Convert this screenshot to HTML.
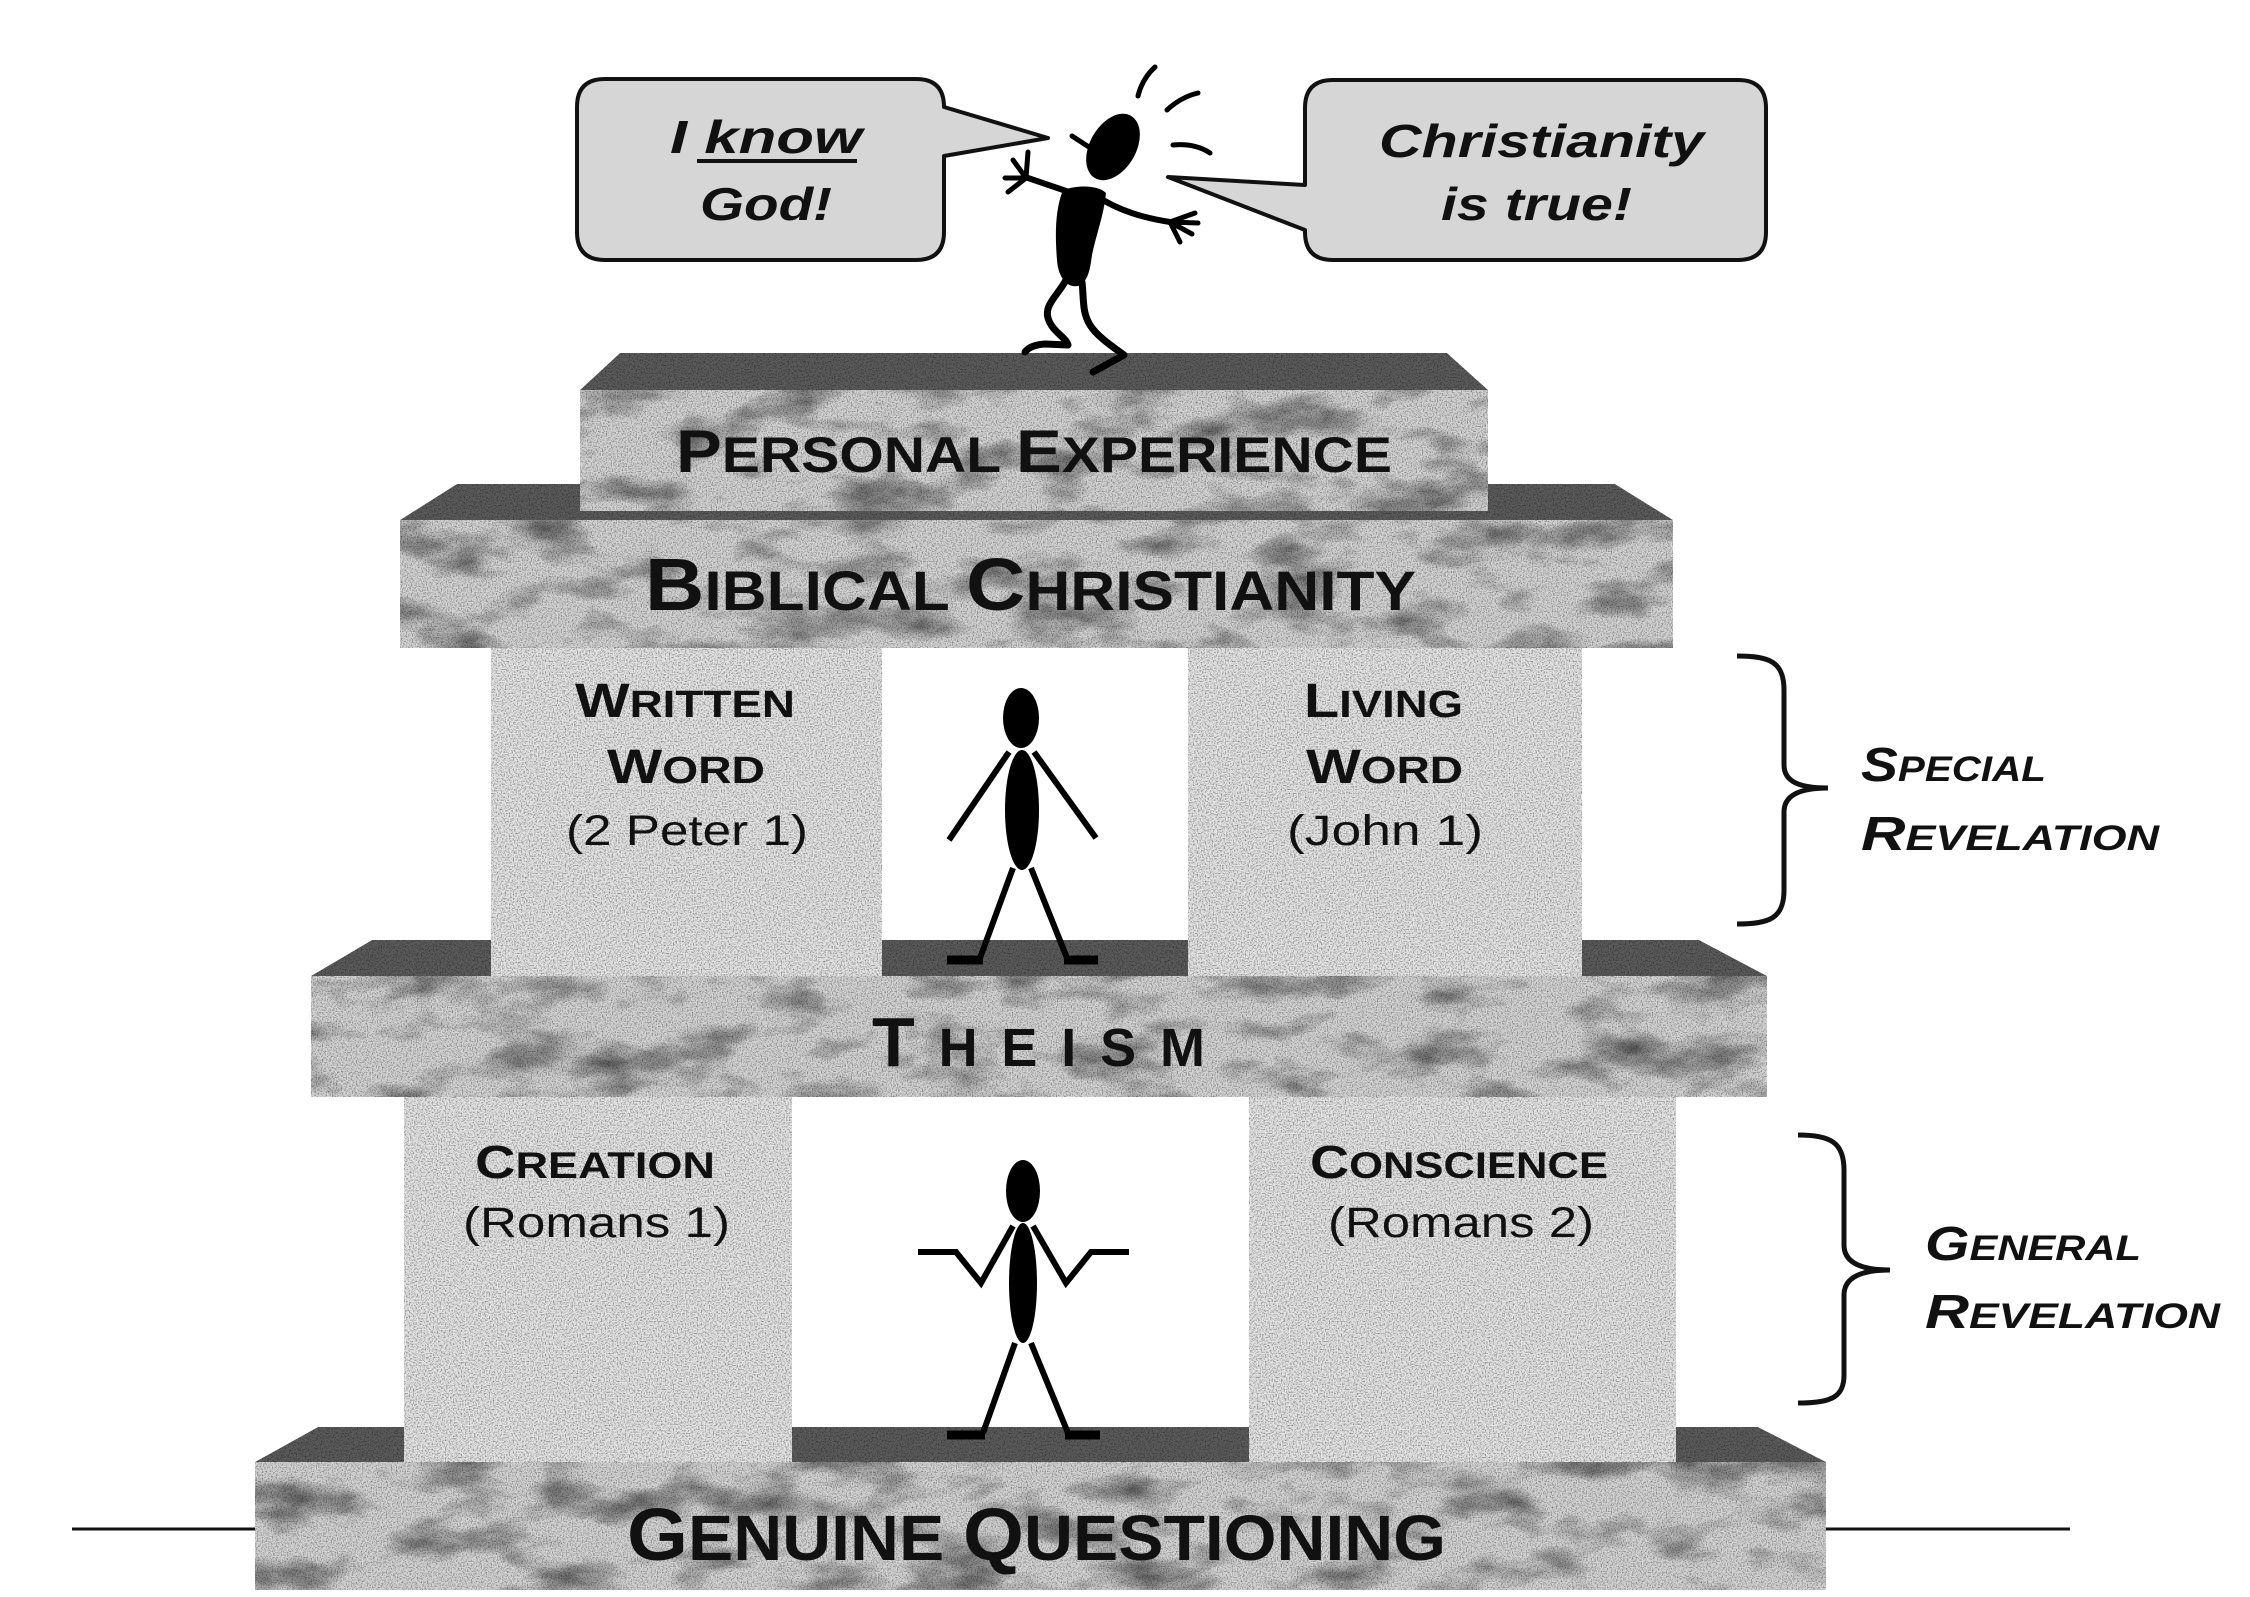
<!DOCTYPE html>
<html>
<head>
<meta charset="utf-8">
<style>
  html,body{margin:0;padding:0;background:#ffffff;}
  svg{display:block;}
  .b{font-family:"Liberation Sans",Arial,sans-serif;font-weight:bold;fill:#111;}
  .r{font-family:"Liberation Sans",Arial,sans-serif;font-weight:normal;fill:#111;}
  .bi{font-family:"Liberation Sans",Arial,sans-serif;font-weight:bold;font-style:italic;fill:#111;}
</style>
</head>
<body>
<svg xmlns="http://www.w3.org/2000/svg" width="2250" height="1597" viewBox="0 0 2250 1597">
  <defs>
    <filter id="marble" filterUnits="userSpaceOnUse" x="0" y="0" width="2250" height="1597" color-interpolation-filters="sRGB">
      <feTurbulence type="fractalNoise" baseFrequency="0.012 0.025" numOctaves="4" seed="11" result="lo"/>
      <feColorMatrix in="lo" type="matrix" values="1.3 0 0 0 0.3  1.3 0 0 0 0.3  1.3 0 0 0 0.3  0 0 0 0 1" result="log"/>
      <feTurbulence type="fractalNoise" baseFrequency="0.8" numOctaves="1" seed="3" result="hi"/>
      <feColorMatrix in="hi" type="matrix" values="1.3 0 0 0 0.27  1.3 0 0 0 0.27  1.3 0 0 0 0.27  0 0 0 0 1" result="hig"/>
      <feBlend in="log" in2="hig" mode="multiply" result="tex"/>
      <feBlend in="SourceGraphic" in2="tex" mode="multiply" result="bl"/>
      <feComposite in="bl" in2="SourceGraphic" operator="in"/>
    </filter>
    <filter id="grain" filterUnits="userSpaceOnUse" x="0" y="0" width="2250" height="1597" color-interpolation-filters="sRGB">
      <feTurbulence type="fractalNoise" baseFrequency="0.75" numOctaves="1" seed="5" result="hi"/>
      <feColorMatrix in="hi" type="matrix" values="1.3 0 0 0 0.27  1.3 0 0 0 0.27  1.3 0 0 0 0.27  0 0 0 0 1" result="hig"/>
      <feBlend in="SourceGraphic" in2="hig" mode="multiply" result="bl"/>
      <feComposite in="bl" in2="SourceGraphic" operator="in"/>
    </filter>
  </defs>

  <rect x="0" y="0" width="2250" height="1597" fill="#ffffff"/>

  <!-- Dark top faces -->
  <g fill="#5c5c5c" filter="url(#grain)">
    <polygon points="318,1427 1758,1427 1826,1462 255,1462"/>
    <polygon points="372,940 1699,940 1767,976 311,976"/>
    <polygon points="457,484 1615,484 1673,520 400,520"/>
    <polygon points="620,353 1447,353 1488,390 580,390"/>
  </g>

  <!-- Marble front faces -->
  <g fill="#d6d6d6" filter="url(#marble)">
    <rect x="255" y="1462" width="1571" height="128"/>
    <rect x="311" y="976" width="1456" height="121"/>
    <rect x="400" y="520" width="1273" height="128"/>
    <rect x="580" y="390" width="908" height="121"/>
  </g>

  <!-- Pillars -->
  <g fill="#e6e6e6" filter="url(#grain)">
    <rect x="404" y="1097" width="388" height="365"/>
    <rect x="1249" y="1097" width="427" height="365"/>
    <rect x="491" y="648" width="391" height="328"/>
    <rect x="1188" y="648" width="394" height="328"/>
  </g>

  <!-- Horizontal ground lines -->
  <line x1="72" y1="1529" x2="255" y2="1529" stroke="#111" stroke-width="3"/>
  <line x1="1826" y1="1529" x2="2070" y2="1529" stroke="#111" stroke-width="3"/>

  <!-- Speech bubbles -->
  <path d="M605,79 H916 Q944,79 944,107 L1048,138 L944,156 V232 Q944,260 916,260 H605 Q577,260 577,232 V107 Q577,79 605,79 Z" fill="#d6d6d6" stroke="#111" stroke-width="4" stroke-linejoin="round"/>
  <path d="M1333,80 H1738 Q1766,80 1766,108 V232 Q1766,260 1738,260 H1333 Q1305,260 1305,232 V230 L1168,177 L1305,185 V108 Q1305,80 1333,80 Z" fill="#d6d6d6" stroke="#111" stroke-width="4" stroke-linejoin="round"/>

  <text class="bi" x="670" y="153" font-size="46" textLength="192" lengthAdjust="spacingAndGlyphs">I know</text>
  <line x1="697" y1="161" x2="857" y2="161" stroke="#111" stroke-width="4"/>
  <text class="bi" x="700" y="220" font-size="46" textLength="132" lengthAdjust="spacingAndGlyphs">God!</text>
  <text class="bi" x="1379" y="157" font-size="46" textLength="325" lengthAdjust="spacingAndGlyphs">Christianity</text>
  <text class="bi" x="1441" y="220" font-size="46" textLength="191" lengthAdjust="spacingAndGlyphs">is true!</text>

  <!-- Top excited figure -->
  <g fill="none" stroke="#000" stroke-linecap="round" stroke-linejoin="round">
    <path d="M1138,96 Q1142,79 1155,67" stroke-width="5"/>
    <path d="M1167,110 Q1181,97 1198,93" stroke-width="5"/>
    <path d="M1173,145 Q1195,143 1210,153" stroke-width="5"/>
    <line x1="1072" y1="136" x2="1092" y2="149" stroke-width="5"/>
    <path d="M1072,193 L1028,178" stroke-width="6"/>
    <path d="M1026,178 L1028,152 M1026,178 L1013,160 M1026,178 L1005,178 M1026,178 L1008,192" stroke-width="5"/>
    <path d="M1103,200 Q1130,216 1170,222" stroke-width="6"/>
    <path d="M1170,222 L1195,213 M1170,222 L1198,223 M1170,222 L1192,234 M1170,222 L1180,242" stroke-width="5"/>
    <path d="M1066,280 C1058,295 1044,305 1048,318 C1052,332 1066,337 1068,345 L1045,344 Q1030,345 1025,352" stroke-width="7"/>
    <path d="M1082,282 C1084,300 1082,312 1090,325 C1096,335 1110,345 1124,355 L1093,372" stroke-width="7"/>
  </g>
  <ellipse cx="1113" cy="147" rx="23" ry="36" transform="rotate(30 1113 147)" fill="#000"/>
  <path d="M1063,190 C1080,184 1100,186 1106,193 C1104,215 1096,235 1092,255 C1090,270 1088,282 1078,286 C1066,288 1058,276 1057,260 C1055,235 1055,210 1063,190 Z" fill="#000"/>

  <!-- Upper standing figure -->
  <ellipse cx="1021" cy="718" rx="18" ry="30" fill="#000"/>
  <ellipse cx="1022" cy="810" rx="17" ry="60" fill="#000"/>
  <g stroke="#000" stroke-width="6" stroke-linecap="butt" fill="none">
    <line x1="1009" y1="752" x2="949" y2="840"/>
    <line x1="1034" y1="752" x2="1096" y2="838"/>
    <line x1="1013" y1="868" x2="980" y2="958"/>
    <line x1="1031" y1="868" x2="1067" y2="958"/>
    <line x1="947" y1="960" x2="983" y2="960" stroke-width="9"/>
    <line x1="1064" y1="960" x2="1098" y2="960" stroke-width="9"/>
  </g>

  <!-- Lower shrugging figure -->
  <ellipse cx="1023" cy="1191" rx="17" ry="31" fill="#000"/>
  <ellipse cx="1023" cy="1283" rx="14" ry="60" fill="#000"/>
  <g stroke="#000" stroke-width="6" stroke-linecap="butt" stroke-linejoin="miter" fill="none">
    <path d="M1013,1226 L981,1283 L956,1252 L918,1252"/>
    <path d="M1033,1226 L1066,1283 L1091,1252 L1129,1252"/>
    <line x1="1015" y1="1343" x2="983" y2="1433"/>
    <line x1="1031" y1="1343" x2="1068" y2="1433"/>
    <line x1="947" y1="1435" x2="985" y2="1435" stroke-width="9"/>
    <line x1="1065" y1="1435" x2="1100" y2="1435" stroke-width="9"/>
  </g>

  <!-- Slab labels -->
  <text class="b" x="676" y="472" textLength="716" lengthAdjust="spacingAndGlyphs"><tspan font-size="60">P</tspan><tspan font-size="50">ERSONAL</tspan><tspan font-size="50"> </tspan><tspan font-size="60">E</tspan><tspan font-size="50">XPERIENCE</tspan></text>
  <text class="b" x="645" y="610" textLength="771" lengthAdjust="spacingAndGlyphs"><tspan font-size="74">B</tspan><tspan font-size="56">IBLICAL</tspan><tspan font-size="56"> </tspan><tspan font-size="74">C</tspan><tspan font-size="56">HRISTIANITY</tspan></text>
  <text class="b" x="872" y="1066" textLength="333" lengthAdjust="spacing"><tspan font-size="70">T</tspan><tspan font-size="54">HEISM</tspan></text>
  <text class="b" x="627" y="1560" textLength="819" lengthAdjust="spacingAndGlyphs"><tspan font-size="74">G</tspan><tspan font-size="64">ENUINE</tspan><tspan font-size="64"> </tspan><tspan font-size="74">Q</tspan><tspan font-size="64">UESTIONING</tspan></text>

  <!-- Upper pillar labels -->
  <text class="b" x="575" y="717" textLength="220" lengthAdjust="spacingAndGlyphs"><tspan font-size="48">W</tspan><tspan font-size="38">RITTEN</tspan></text>
  <text class="b" x="607" y="783" textLength="158" lengthAdjust="spacingAndGlyphs"><tspan font-size="48">W</tspan><tspan font-size="38">ORD</tspan></text>
  <text class="r" x="566" y="845" font-size="43" textLength="242" lengthAdjust="spacingAndGlyphs">(2 Peter 1)</text>
  <text class="b" x="1304" y="717" textLength="159" lengthAdjust="spacingAndGlyphs"><tspan font-size="48">L</tspan><tspan font-size="38">IVING</tspan></text>
  <text class="b" x="1306" y="783" textLength="157" lengthAdjust="spacingAndGlyphs"><tspan font-size="48">W</tspan><tspan font-size="38">ORD</tspan></text>
  <text class="r" x="1287" y="845" font-size="43" textLength="196" lengthAdjust="spacingAndGlyphs">(John 1)</text>

  <!-- Lower pillar labels -->
  <text class="b" x="475" y="1178" textLength="240" lengthAdjust="spacingAndGlyphs"><tspan font-size="46">C</tspan><tspan font-size="37">REATION</tspan></text>
  <text class="r" x="463" y="1237" font-size="43" textLength="267" lengthAdjust="spacingAndGlyphs">(Romans 1)</text>
  <text class="b" x="1310" y="1178" textLength="298" lengthAdjust="spacingAndGlyphs"><tspan font-size="46">C</tspan><tspan font-size="37">ONSCIENCE</tspan></text>
  <text class="r" x="1328" y="1237" font-size="43" textLength="266" lengthAdjust="spacingAndGlyphs">(Romans 2)</text>

  <!-- Braces -->
  <path d="M1737,656 C1770,656 1784,662 1784,690 L1784,765 C1784,782 1800,788 1828,788 C1800,788 1784,795 1784,812 L1784,890 C1784,918 1770,924 1737,924" fill="none" stroke="#111" stroke-width="5"/>
  <path d="M1798,1135 C1830,1135 1844,1142 1844,1170 L1844,1245 C1844,1262 1860,1270 1890,1270 C1860,1270 1844,1278 1844,1295 L1844,1375 C1844,1398 1830,1403 1798,1403" fill="none" stroke="#111" stroke-width="5"/>

  <text class="bi" x="1861" y="781" textLength="185" lengthAdjust="spacingAndGlyphs"><tspan font-size="48">S</tspan><tspan font-size="35">PECIAL</tspan></text>
  <text class="bi" x="1861" y="850" textLength="298" lengthAdjust="spacingAndGlyphs"><tspan font-size="48">R</tspan><tspan font-size="35">EVELATION</tspan></text>
  <text class="bi" x="1925" y="1260" textLength="216" lengthAdjust="spacingAndGlyphs"><tspan font-size="48">G</tspan><tspan font-size="35">ENERAL</tspan></text>
  <text class="bi" x="1925" y="1328" textLength="295" lengthAdjust="spacingAndGlyphs"><tspan font-size="48">R</tspan><tspan font-size="35">EVELATION</tspan></text>
</svg>
</body>
</html>
